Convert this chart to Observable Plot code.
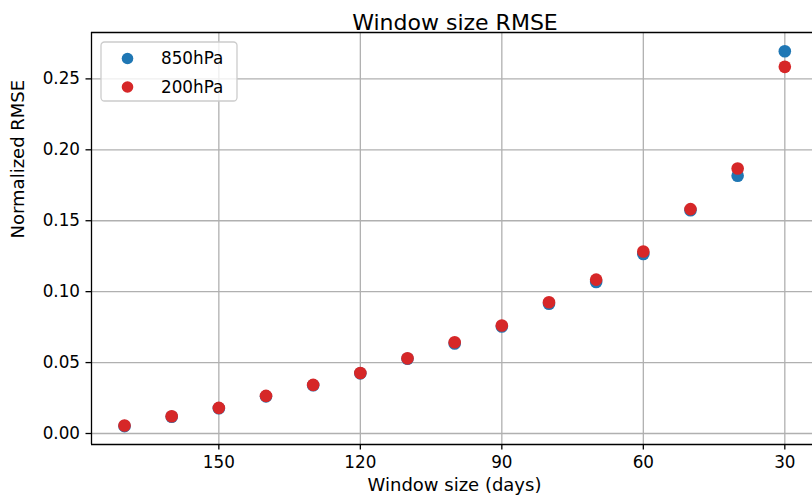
<!DOCTYPE html>
<html>
<head>
<meta charset="utf-8">
<script src="https://cdn.jsdelivr.net/npm/d3@7"></script>
<script src="https://cdn.jsdelivr.net/npm/@observablehq/plot@0.6"></script>
<style>
  html, body { margin: 0; padding: 0; background: white; overflow: hidden; }
</style>
</head>
<body>
<div id="chart"></div>
<script>
// ---- data ----
const windowDays = [170, 160, 150, 140, 130, 120, 110, 100, 90, 80, 70, 60, 50, 40, 30];
const rmse850 = [0.0052, 0.0118, 0.0178, 0.0262, 0.0340, 0.0424, 0.0527, 0.0634, 0.0754, 0.0915, 0.1068, 0.1265, 0.1574, 0.1817, 0.2695];
const rmse200 = [0.0056, 0.0122, 0.0181, 0.0265, 0.0343, 0.0427, 0.0530, 0.0643, 0.0761, 0.0925, 0.1085, 0.1283, 0.1582, 0.1868, 0.2585];
const seriesNames = ["850hPa", "200hPa"];
const seriesColors = ["#1f77b4", "#d62728"];
const xTicks = [150, 120, 90, 60, 30];
const yTicks = [0, 0.05, 0.10, 0.15, 0.20, 0.25];
const titleText = "Window size RMSE";
const xLabel = "Window size (days)";
const yLabel = "Normalized RMSE";

const xDomain = [177, 24.13];
const yDomain = [-0.00775, 0.2827];

const rows850 = windowDays.map((w, i) => ({w, v: rmse850[i]}));
const rows200 = windowDays.map((w, i) => ({w, v: rmse200[i]}));

const gridStyle = {stroke: "#b0b0b0", strokeOpacity: 1, strokeWidth: 1.3};

const chart = Plot.plot({
  width: 812,
  height: 504,
  marginLeft: 91,
  marginRight: 0,
  marginTop: 32,
  marginBottom: 60,
  style: {fontFamily: "'DejaVu Sans', sans-serif", fontSize: "16.8px", background: "white", color: "black"},
  x: {domain: xDomain, label: null},
  y: {domain: yDomain, label: null},
  marks: [
    Plot.gridX({ticks: xTicks, ...gridStyle}),
    Plot.gridY({ticks: yTicks, ...gridStyle}),
    Plot.dot(rows850, {x: "w", y: "v", r: 6.3, fill: seriesColors[0]}),
    Plot.dot(rows200, {x: "w", y: "v", r: 6.3, fill: seriesColors[1]}),
    Plot.ruleY([yDomain[0]], {stroke: "black", strokeWidth: 1.3}),
    Plot.ruleY([yDomain[1]], {stroke: "black", strokeWidth: 1.3}),
    Plot.ruleX([xDomain[0]], {stroke: "black", strokeWidth: 1.3}),
    Plot.axisX({ticks: xTicks, tickFormat: d3.format("d"), tickSize: 5.5, tickPadding: 6, strokeWidth: 1.3, fontSize: 16.8, label: null}),
    Plot.axisY({ticks: yTicks, tickFormat: d3.format(".2f"), tickSize: 5.5, tickPadding: 6, strokeWidth: 1.3, fontSize: 16.8, label: null}),
    Plot.text([titleText], {frameAnchor: "top", dy: -18.5, dx: 3, fontSize: 22, fill: "black"}),
    Plot.text([xLabel], {frameAnchor: "bottom", dy: 46, dx: 2.5, fontSize: 18, fill: "black"}),
    Plot.text([yLabel], {frameAnchor: "left", dx: -73.5, rotate: -90, fontSize: 18, fill: "black"})
  ]
});

// ---- legend ----
const svg = d3.select(chart);
const lg = svg.append("g").attr("transform", "translate(101,42)");
lg.append("rect")
  .attr("x", 0).attr("y", 0).attr("width", 136).attr("height", 59)
  .attr("rx", 3.5).attr("ry", 3.5)
  .attr("fill", "white").attr("fill-opacity", 0.8)
  .attr("stroke", "#cccccc").attr("stroke-width", 1.3);
seriesNames.forEach((name, i) => {
  const g = lg.append("g").attr("transform", `translate(0,${16.5 + i * 28.5})`);
  g.append("circle").attr("cx", 26.5).attr("cy", 0).attr("r", 5.8).attr("fill", seriesColors[i]);
  g.append("text").attr("x", 60).attr("y", 0).attr("dy", "0.35em")
    .attr("text-anchor", "start")
    .attr("font-size", 16.8).attr("fill", "black")
    .attr("font-family", "'DejaVu Sans', sans-serif")
    .text(name);
});

document.getElementById("chart").appendChild(chart);
</script>
</body>
</html>
